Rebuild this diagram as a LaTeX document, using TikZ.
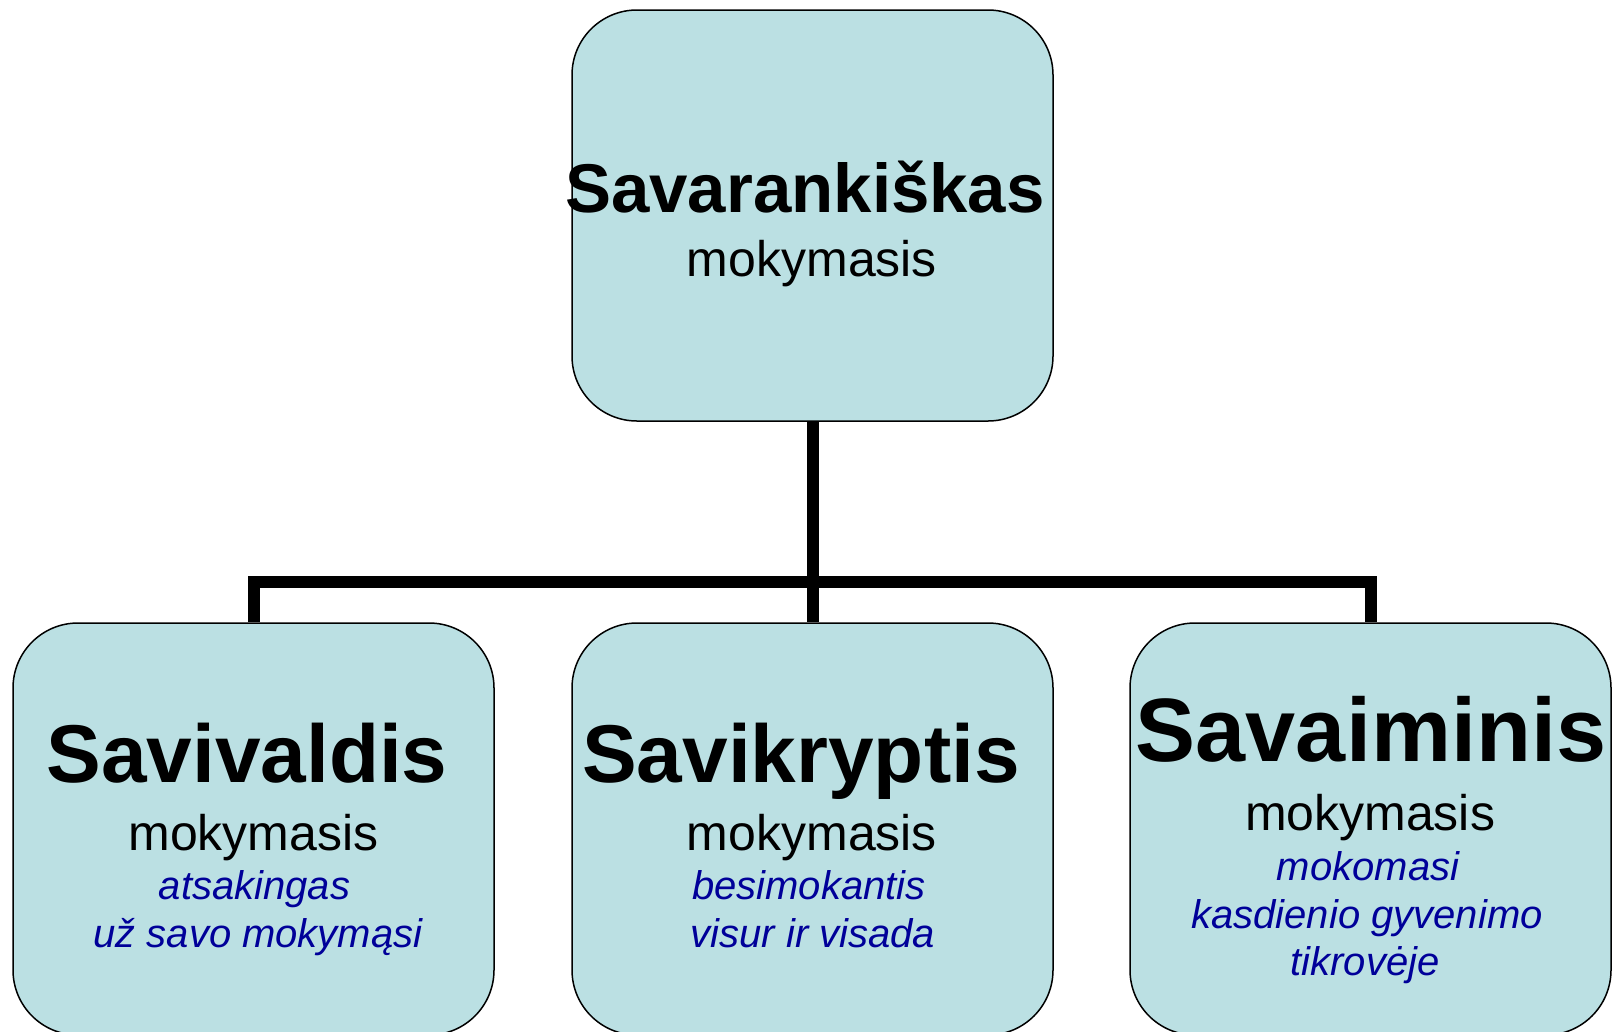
\documentclass[tikz,border=0pt]{standalone}
\usepackage{fontspec}
\setmainfont{Liberation Sans}
\usepackage{xcolor}
\usepackage{tikz}
\usetikzlibrary{backgrounds}
\definecolor{boxfill}{HTML}{BBE0E3}
\definecolor{noteblue}{HTML}{000099}

\begin{document}
\begin{tikzpicture}[x=1pt, y=-1pt]
        \tikzset{box style/.style={draw, line width=1.5pt, rectangle, rounded corners=65pt, fill=boxfill, minimum width=481pt, minimum height=412pt, inner sep=0pt}}
        \tikzset{title style/.style={anchor=base, inner sep=0pt, font=\fontsize{82}{98}\selectfont\bfseries}}
        \tikzset{sub style/.style={anchor=base, inner sep=0pt, font=\fontsize{50}{60}\selectfont}}
        \tikzset{note style/.style={anchor=base, inner sep=0pt, text=noteblue, font=\fontsize{40}{48}\selectfont\itshape}}
        \tikzset{line style/.style={line width=12pt, color=black, line join=miter}}

        \useasboundingbox (0,0) rectangle (1614,1031);

        % boxes
        \node[box style, minimum height=411pt] (top) at (812.5,215.5) {};
        \node[box style] (left) at (253.5,829) {};
        \node[box style] (mid) at (812.5,829) {};
        \node[box style] (right) at (1370.5,829) {};

        % connectors
        \begin{scope}[on background layer]
            \coordinate (bar) at (812.5,582);
            \draw[line style] (top.south) -- (mid.north);
            \draw[line style] (left.north) -- (left.north |- bar) -- (right.north |- bar) -- (right.north);
        \end{scope}

        % texts
        \node[title style, font=\fontsize{69}{83}\selectfont\bfseries] (topTitle) at (805,212) {Savarankiškas};
        \node[sub style] (topSub) at (812,276) {mokymasis};

        \node[title style] (leftTitle) at (247,782) {Savivaldis};
        \node[sub style] (leftSub) at (253.5,850) {mokymasis};
        \node[note style] (leftNoteA) at (254.5,899) {atsakingas};
        \node[note style] (leftNoteB) at (258,947) {už savo mokymąsi};

        \node[title style] (midTitle) at (801,782) {Savikryptis};
        \node[sub style] (midSub) at (812,850) {mokymasis};
        \node[note style] (midNoteA) at (809,899) {besimokantis};
        \node[note style] (midNoteB) at (813,947) {visur ir visada};

        \node[title style, font=\fontsize{90}{108}\selectfont\bfseries] (rightTitle) at (1371,761) {Savaiminis};
        \node[sub style] (rightSub) at (1370,830) {mokymasis};
        \node[note style] (rightNoteA) at (1368,880) {mokomasi};
        \node[note style] (rightNoteB) at (1367,928) {kasdienio gyvenimo};
        \node[note style] (rightNoteC) at (1365,975) {tikrovėje};
    \end{tikzpicture}
\end{document}
